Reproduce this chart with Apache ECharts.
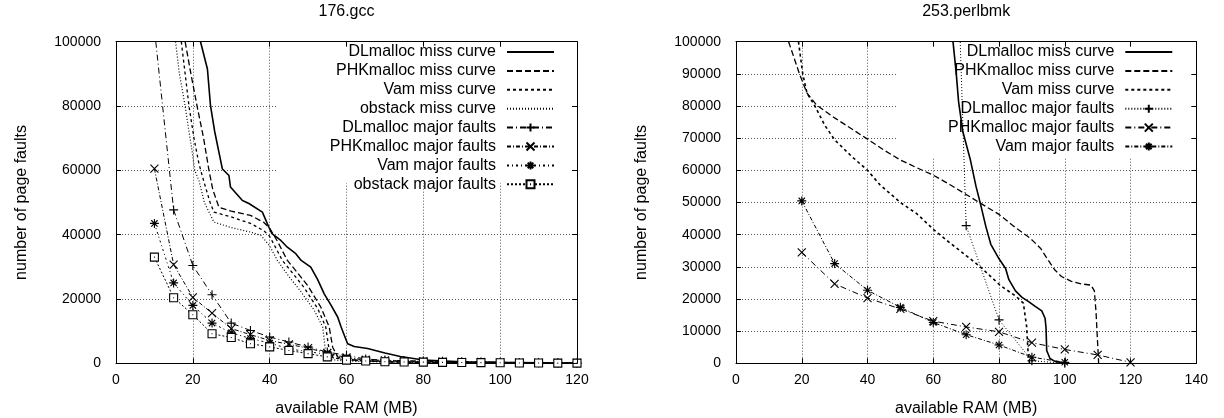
<!DOCTYPE html>
<html><head><meta charset="utf-8">
<script src="https://cdn.jsdelivr.net/npm/echarts@6/dist/echarts.min.js"></script>
<style>html,body{margin:0;padding:0;background:#fff}#c{width:1224px;height:418px}</style>
</head><body><div id="c"></div>
<script>
// ---------- 176.gcc ----------
const gccDlMissX = [22,23.8,24.6,25.7,26.8,27.7,29.4,29.8,32.9,34.6,38.1,39.8,40.6,42.9,44.6,46.8,48.2,50.7,52.5,54.2,56,57.7,58.6,59.5,60.3,62,65.5,70,74,80,90,100,110,120];
const gccDlMissY = [100000,91500,80100,72000,65600,60400,58400,54800,50600,49700,47000,42300,40300,38200,36100,34100,32000,29900,26000,21600,18000,14400,11300,8500,6100,5200,4600,3200,2100,1000,500,300,150,100];
const gccPhkMissX = [18,19.5,21.1,22.8,24.2,25.2,26.8,30,35,38.5,40,42,44.6,47,50,53.3,55.5,56.4,57.7,60,65,70,80,100,120];
const gccPhkMissY = [100000,90000,80000,70000,60000,54000,48500,47300,46000,43800,42000,38000,32000,28500,24000,17500,11300,5000,2000,1300,800,500,300,150,50];
const gccVamMissX = [17,18,19,20.3,21.6,23,24.5,25.5,30,35,38.5,40,43.3,46,49,52.5,54.6,55.5,56.5,60,70,80,100,120];
const gccVamMissY = [100000,90000,80000,70000,62000,56000,50000,47000,45500,43500,41200,39500,32000,28000,23500,17000,11300,4000,1800,1000,500,300,100,0];
const gccObsMissX = [15.5,16.5,18,19,19.8,20.5,21.6,23,25.5,30,35,37.7,40,42,45,48,51.6,53.8,54.6,55.5,60,70,80,100,120];
const gccObsMissY = [100000,90000,80000,72000,66000,60000,56800,50000,43900,42200,40800,39800,36500,32000,27000,22500,16500,11300,3000,1200,700,400,200,100,0];
const gccMajorX = [10,15,20,25,30,35,40,45,50,55,60,65,70,75,80,85,90,95,100,105,110,115,120];
const gccDlMajor  = [104000,47700,30400,21300,12500,10200,8200,6600,5100,3500,2500,1300,1000,800,700,600,500,400,300,250,200,150,100];
const gccPhkMajor = [60500,30700,20500,15600,10800,8900,7100,5900,4700,3200,1800,1100,900,700,600,500,450,400,300,250,200,150,100];
const gccVamMajor = [43500,25000,18000,12500,9500,7700,6300,4500,3600,2800,1600,900,700,600,500,400,350,300,250,200,150,100,50];
const gccObsMajor = [33000,20400,15100,9200,8000,6100,5100,4000,3000,2000,1000,700,500,400,350,300,250,200,150,100,100,50,50];

// ---------- 253.perlbmk ----------
const perlDlMissX = [66,67,67.7,69,71.3,73,74.3,76,77.5,80,82,83,85,87,89,91,93,94,94.3,94.5,95.5,97,100];
const perlDlMissY = [100000,90000,81300,72000,63200,55000,49800,42500,37000,32500,29500,26000,22500,20500,19200,17700,16300,14000,11000,4000,1500,600,0];
const perlPhkMissX = [16,19.3,21.6,24.5,30,35,40,45,50,55,60,65,70,74.3,80,85,89.5,92.6,95,97,99,102,105,108,109,109.5,110,110.3];
const perlPhkMissY = [100000,90000,84000,80300,76300,73000,69700,66300,63200,60800,58500,55600,52500,49800,46300,42200,38900,35800,32000,29000,27000,25500,24700,24300,22500,16000,6000,0];
const perlVamMissX = [19,20.3,21.6,24,27,30,35,40,43.8,50,55,60.2,65,70,74.3,80.3,85.3,87.4,88.4,88.9,89.3];
const perlVamMissY = [100000,90000,84000,80000,74000,69500,64500,60000,55500,50000,46500,41500,37500,33500,30000,24300,20700,18700,11400,2000,0];
const perlDlMajorX = [60,70,80,90,100];
const perlDlMajor  = [360000,42800,13500,800,0];
const perlPhkMajorX = [20,30,40,50,60,70,80,90,100,110,120];
const perlPhkMajor  = [34500,24700,20300,16900,13100,11300,9800,6400,4300,2600,300];
const perlVamMajorX = [20,30,40,50,60,70,80,90,100];
const perlVamMajor  = [50500,31000,22700,17400,12700,8900,5700,1900,300];

const legendGcc = ['DLmalloc miss curve','PHKmalloc miss curve','Vam miss curve','obstack miss curve','DLmalloc major faults','PHKmalloc major faults','Vam major faults','obstack major faults'];
const legendPerl = ['DLmalloc miss curve','PHKmalloc miss curve','Vam miss curve','DLmalloc major faults','PHKmalloc major faults','Vam major faults'];

const FONT = '"Liberation Sans", Arial, Helvetica, sans-serif';
const pairs = (xs, ys) => xs.map((x, i) => [x, ys[i]]);

const PLUS = 'path://M5,0L5,10M0,5L10,5';
const CROSS = 'path://M0,0L10,10M0,10L10,0';
const STAR = 'path://M5,0L5,10M0,5L10,5M1.5,1.5L8.5,8.5M1.5,8.5L8.5,1.5';
const BOX = 'path://M0,0L10,0L10,10L0,10Z M4.4,5L5.6,5';

function missSeries(name, xs, ys, dash, w, gi) {
  return { name, type:'line', xAxisIndex:gi*2, yAxisIndex:gi*2, data:pairs(xs, ys), symbol:'none',
    lineStyle:{color:'#000', width:w, type:dash}, itemStyle:{color:'#000'}, z:3, animation:false, clip:true };
}
function majorSeries(name, xs, ys, dash, sym, size, gi) {
  return { name, type:'line', xAxisIndex:gi*2, yAxisIndex:gi*2, data:pairs(xs, ys), symbol:sym, symbolSize:size, showAllSymbol:true,
    lineStyle:{color:'#000', width:1, type:dash}, itemStyle:{color:'#fff', borderColor:'#000', borderWidth:1.1}, z:3, animation:false, clip:true };
}
// white box behind the key (hides the grid there, like the original)
function whiteout(gi, x0, y0, x1, y1) {
  return { type:'custom', xAxisIndex:gi*2, yAxisIndex:gi*2, z:1, silent:true, animation:false, clip:false,
    data:[[x0, y0, x1, y1]],
    renderItem:(params, api) => {
      const a = api.coord([api.value(0), api.value(3)]);
      const b = api.coord([api.value(2), api.value(1)]);
      return {type:'rect', shape:{x:a[0], y:a[1], width:b[0]-a[0], height:b[1]-a[1]}, style:{fill:'#fff', stroke:null}};
    } };
}

const DASH = [6,3], SHORT = [3,3], DOT = [1,2];
const DD1 = [6,3,1,3], DD2 = [4,2,1,2], DD3 = [2,3,1,3], DD4 = [2,2];

function axesFor(gi, xmax, name) {
  const common = { type:'value', gridIndex:gi, min:0 };
  const tick = {show:true, inside:true, length:5, lineStyle:{color:'#000'}};
  const line = {show:true, onZero:false, lineStyle:{color:'#000', width:1}};
  const nameStyle = {fontFamily:FONT, fontSize:16, color:'#000'};
  return {
    x: [
      Object.assign({}, common, { max:xmax, interval:20, position:'bottom', name:'available RAM (MB)', nameLocation:'middle', nameGap:37,
        nameTextStyle:nameStyle, axisLine:line, axisTick:tick,
        axisLabel:{fontFamily:FONT, fontSize:14, color:'#000', margin:10},
        splitLine:{show:true, lineStyle:{color:'#555', width:1, type:[1,2]}}, z:0 }),
      Object.assign({}, common, { max:xmax, interval:20, position:'top', name:name, nameLocation:'middle', nameGap:22,
        nameTextStyle:nameStyle, axisLine:line, axisTick:tick,
        axisLabel:{show:false}, splitLine:{show:false}, z:5 })
    ],
    y: [
      Object.assign({}, common, { max:100000, interval: gi===0 ? 20000 : 10000, position:'left', name:'number of page faults', nameLocation:'middle', nameGap:86, nameRotate:90,
        nameTextStyle:nameStyle, axisLine:line, axisTick:tick,
        axisLabel:{fontFamily:FONT, fontSize:14, color:'#000', margin:15, formatter: v => String(v)},
        splitLine:{show:true, lineStyle:{color:'#555', width:1, type:[1,2]}}, z:0 }),
      Object.assign({}, common, { max:100000, interval: gi===0 ? 20000 : 10000, position:'right',
        axisLine:line, axisTick:tick, axisLabel:{show:false}, splitLine:{show:false}, z:5 })
    ]
  };
}
const a0 = axesFor(0, 120, '176.gcc');
const a1 = axesFor(1, 140, '253.perlbmk');

const series = [
  whiteout(0, 42, 56000, 120, 100000),
  whiteout(1, 49, 64000, 140, 100000),
  missSeries('gcc|DLmalloc miss curve', gccDlMissX, gccDlMissY, 'solid', 1.6, 0),
  missSeries('gcc|PHKmalloc miss curve', gccPhkMissX, gccPhkMissY, DASH, 1.3, 0),
  missSeries('gcc|Vam miss curve', gccVamMissX, gccVamMissY, SHORT, 1.3, 0),
  missSeries('gcc|obstack miss curve', gccObsMissX, gccObsMissY, DOT, 1.2, 0),
  majorSeries('gcc|DLmalloc major faults', gccMajorX, gccDlMajor, DD1, PLUS, 9, 0),
  majorSeries('gcc|PHKmalloc major faults', gccMajorX, gccPhkMajor, DD2, CROSS, 8, 0),
  majorSeries('gcc|Vam major faults', gccMajorX, gccVamMajor, DD3, STAR, 9, 0),
  majorSeries('gcc|obstack major faults', gccMajorX, gccObsMajor, DD4, BOX, 8, 0),
  missSeries('perl|DLmalloc miss curve', perlDlMissX, perlDlMissY, 'solid', 1.6, 1),
  missSeries('perl|PHKmalloc miss curve', perlPhkMissX, perlPhkMissY, DASH, 1.3, 1),
  missSeries('perl|Vam miss curve', perlVamMissX, perlVamMissY, SHORT, 1.6, 1),
  majorSeries('perl|DLmalloc major faults', perlDlMajorX, perlDlMajor, DOT, PLUS, 9, 1),
  majorSeries('perl|PHKmalloc major faults', perlPhkMajorX, perlPhkMajor, DD1, CROSS, 8, 1),
  majorSeries('perl|Vam major faults', perlVamMajorX, perlVamMajor, DD2, STAR, 9, 1)
];

function legendFor(prefix, names, right) {
  return { orient:'vertical', right:right, top:44, align:'right', padding:0,
    itemWidth:47, itemHeight:10, itemGap:2.9, selectedMode:false,
    data: names.map(n => {
      const item = { name: prefix + '|' + n };
      if (/miss curve/.test(n)) item.itemStyle = { opacity: 0 };
      return item;
    }),
    formatter: n => n.split('|').pop(),
    textStyle:{fontFamily:FONT, fontSize:16, color:'#000', lineHeight:16, padding:[0,6,0,0]} };
}

const chart = echarts.init(document.getElementById('c'), null, {renderer:'canvas'});
chart.setOption({
  backgroundColor:'#fff',
  animation:false,
  grid:[
    {left:116, right:1224-577, top:41.7, bottom:418-363.3, containLabel:false, outerBoundsMode:'none'},
    {left:736, right:1224-1196.3, top:41.7, bottom:418-363.3, containLabel:false, outerBoundsMode:'none'}
  ],
  xAxis: [a0.x[0], a0.x[1], a1.x[0], a1.x[1]],
  yAxis: [a0.y[0], a0.y[1], a1.y[0], a1.y[1]],
  legend: [legendFor('gcc', legendGcc, 1224-555), legendFor('perl', legendPerl, 1224-1173.3)],
  series: series
});
</script></body></html>
